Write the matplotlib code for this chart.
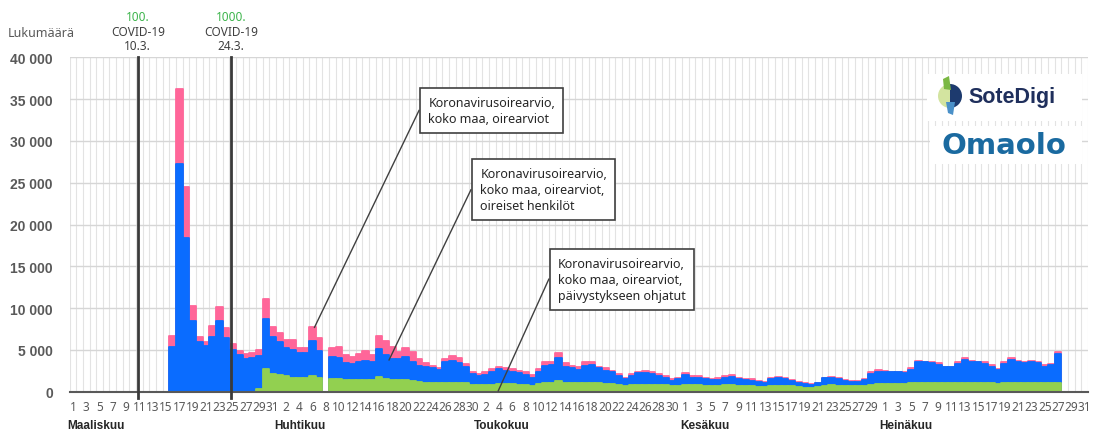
import numpy as np
import pandas as pd
import matplotlib
matplotlib.use('Agg')
import matplotlib.pyplot as plt
from matplotlib import transforms
from matplotlib.patches import Rectangle, Polygon, Wedge

plt.rcParams['font.family'] = ['Noto Sans', 'DejaVu Sans']

# Daily counts from 16.3.2020 onwards
first_day = '2020-03-16'
total = [6700, 36200, 24500, 10300, 6500, 6000, 7900, 10100, 7600, 5700,
         4900, 4500, 4600, 5000, 11100, 7800, 7000, 6200, 6200, 5200,
         5200, 7700, 6400, 0, 5200, 5300, 4400, 4200, 4500, 4900,
         4400, 6700, 6100, 5300, 4800, 5200, 4700, 3900, 3400, 3100,
         2800, 3900, 4300, 4000, 3300, 2300, 2100, 2300, 2700, 3000,
         2800, 2700, 2500, 2300, 2000, 2700, 3600, 3600, 4600, 3400,
         3100, 2900, 3500, 3500, 3000, 2800, 2500, 2100, 1700, 2100,
         2400, 2500, 2300, 2100, 1900, 1500, 1700, 2200, 1900, 1900,
         1700, 1500, 1600, 1900, 2000, 1700, 1500, 1500, 1300, 1200,
         1600, 1800, 1600, 1400, 1200, 1000, 900, 1100, 1700, 1800,
         1700, 1400, 1300, 1300, 1500, 2300, 2600, 2500, 2400, 2400,
         2300, 2800, 3700, 3600, 3600, 3400, 3000, 3000, 3500, 4000,
         3700, 3600, 3500, 3200, 2700, 3500, 4000, 3700, 3600, 3700,
         3600, 3200, 3300, 4700]
symptomatic = [5400, 27200, 18400, 8400, 6000, 5500, 6600, 8500, 6400, 5000,
               4400, 3900, 4000, 4300, 8700, 6600, 6000, 5200, 5000, 4600,
               4600, 6100, 4900, 0, 4200, 4000, 3400, 3300, 3600, 3700,
               3600, 5100, 4400, 3900, 3900, 4100, 3500, 3100, 3000, 2800,
               2600, 3500, 3700, 3400, 3000, 2100, 1900, 2000, 2300, 2700,
               2500, 2400, 2200, 2000, 1700, 2400, 3100, 3200, 4000, 3000,
               2800, 2600, 3100, 3200, 2800, 2500, 2300, 1900, 1500, 1900,
               2200, 2200, 2100, 1900, 1700, 1300, 1500, 2000, 1700, 1700,
               1500, 1400, 1400, 1700, 1800, 1500, 1400, 1300, 1200, 1100,
               1500, 1600, 1500, 1300, 1100, 900, 800, 1000, 1600, 1600,
               1500, 1300, 1200, 1200, 1400, 2100, 2400, 2300, 2300, 2300,
               2200, 2600, 3500, 3500, 3400, 3200, 2900, 2900, 3300, 3800,
               3500, 3500, 3300, 3000, 2600, 3300, 3800, 3500, 3400, 3500,
               3400, 3000, 3200, 4500]
referred = [0, 0, 0, 0, 0, 0, 0, 0, 0, 0,
            0, 0, 0, 300, 2700, 2100, 2000, 1900, 1700, 1700,
            1700, 1900, 1700, 0, 1500, 1500, 1400, 1400, 1400, 1400,
            1400, 1800, 1500, 1400, 1400, 1400, 1300, 1200, 1100, 1100,
            1000, 1100, 1100, 1100, 1000, 800, 800, 800, 800, 900,
            900, 900, 800, 800, 700, 900, 1000, 1100, 1300, 1100,
            1000, 1000, 1000, 1000, 1000, 900, 900, 800, 700, 800,
            800, 800, 800, 800, 800, 700, 700, 800, 800, 800,
            700, 700, 700, 800, 800, 700, 700, 700, 600, 600,
            700, 700, 700, 700, 600, 500, 500, 600, 700, 800,
            700, 700, 700, 700, 700, 800, 900, 900, 900, 900,
            900, 1000, 1100, 1100, 1100, 1000, 1000, 1000, 1000, 1000,
            1000, 1000, 1000, 1000, 900, 1000, 1100, 1100, 1000, 1000,
            1000, 1000, 1000, 1100]

months = ['Maaliskuu', 'Huhtikuu', 'Toukokuu', 'Kesäkuu', 'Heinäkuu']
event_dates = ['2020-03-10', '2020-03-24']
event_counts = ['100.', '1000.']
event_days = ['10.3.', '24.3.']
notes = ['Koronavirusoirearvio,\nkoko maa, oirearviot',
         'Koronavirusoirearvio,\nkoko maa, oirearviot,\noireiset henkilöt',
         'Koronavirusoirearvio,\nkoko maa, oirearviot,\npäivystykseen ohjatut']

start = pd.Timestamp('2020-03-01')
all_days = pd.date_range(start, '2020-07-31')
days = pd.date_range(first_day, periods=len(total))
x = (days - start).days.values + 0.5
n_days = len(all_days)

fig = plt.figure(figsize=(11.02, 4.35), dpi=100)
ax = fig.add_axes([0.0631, 0.0972, 0.9242, 0.7688])

# grid: every day vertically, every 5000 horizontally
ax.vlines(np.arange(0, n_days + 1), 0, 40000, color='#e3e3e3', lw=0.8, zorder=0)
for v in range(5000, 40001, 5000):
    ax.axhline(v, color='#d6d6d6', lw=1.0, zorder=0)

bar_kw = dict(width=1.0, linewidth=1.3, joinstyle='round')
ax.bar(x, total, color='#ff6699', edgecolor='#ff6699', zorder=2, **bar_kw)
ax.bar(x, symptomatic, color='#0a6cff', edgecolor='#0a6cff', zorder=3, **bar_kw)
ax.bar(x, referred, color='#92d050', edgecolor='#92d050', zorder=4, **bar_kw)

ax.set_xlim(0, n_days)
ax.set_ylim(0, 40000)
for s in ['top', 'right', 'left']:
    ax.spines[s].set_visible(False)
ax.spines['bottom'].set_color('#595959')
ax.spines['bottom'].set_linewidth(1.5)
ax.spines['bottom'].set_zorder(5)

yt = np.arange(0, 40001, 5000)
ax.set_yticks(yt)
ax.set_yticklabels([f'{v:,}'.replace(',', ' ') for v in yt], family='Liberation Sans',
                   fontweight='bold', color='#595959', fontsize=10)
xt = np.arange(0, n_days, 2)
ax.set_xticks(xt + 0.5)
ax.set_xticklabels([str(all_days[i].day) for i in xt], color='#595959', fontsize=8.5)
ax.tick_params(axis='both', length=0)
ax.tick_params(axis='y', pad=12)
ax.tick_params(axis='x', pad=6)

# month names under the first day of each month
tr = transforms.blended_transform_factory(ax.transData, ax.transAxes)
month_starts = [i for i, d in enumerate(all_days) if d.day == 1]
for m, i in zip(months, month_starts):
    ax.text(i - 0.3, -0.1, m, transform=tr, family='Liberation Sans', fontweight='bold',
            fontsize=8.5, color='#262626', ha='left', va='center')

# COVID-19 case milestones
for d, c, lbl in zip(event_dates, event_counts, event_days):
    xe = (pd.Timestamp(d) - start).days + 1.25
    ax.plot([xe, xe], [-700, 40000], color='#3a3a3a', lw=2, zorder=6, clip_on=False)
    ax.text(xe, 1.123, c, transform=tr, ha='center', va='center',
            fontsize=8.5, color='#3cb44b')
    ax.text(xe, 1.076, 'COVID-19', transform=tr, ha='center', va='center',
            fontsize=8.5, color='#404040')
    ax.text(xe, 1.034, lbl, transform=tr, ha='center', va='center',
            fontsize=8.5, color='#404040')

fig.text(0.0073, 0.924, 'Lukumäärä', fontsize=9, color='#595959', va='center')

# callout boxes with leader lines
box_left = [52.5, 60.3, 72.0]
box_mid = [33640, 24150, 13460]
targets = [(36.8, 7700), (48.0, 3800), (64.4, 100)]
for txt, bl, bm, (tx, ty) in zip(notes, box_left, box_mid, targets):
    ax.plot([bl, tx], [bm, ty], color='#404040', lw=1, zorder=7, clip_on=False)
    ax.text(bl + 1.4, bm, txt, ha='left', va='center', fontsize=9,
            color='#262626', linespacing=1.3, zorder=8,
            bbox=dict(boxstyle='square,pad=0.65', fc='white', ec='#404040', lw=1.2))

# logos (top right), drawn in pixel-like coordinates
lax = fig.add_axes([927 / 1102, 1 - 165 / 435, 155 / 1102, 90 / 435])
lax.set_xlim(927, 1082)
lax.set_ylim(165, 75)
lax.axis('off')
lax.add_patch(Rectangle((927, 75), 155, 47, fc='white', ec='none'))
lax.add_patch(Rectangle((930, 127), 152, 38, fc='white', ec='none'))
lax.add_patch(Wedge((950, 97), 12, 90, 270, fc='#d3e4a0', ec='none'))
lax.add_patch(Wedge((950, 97), 12, -90, 90, fc='#1d3a6e', ec='none'))
lax.add_patch(Polygon([(943, 80), (949, 77), (951, 91), (944, 90)], fc='#7bb843', ec='none'))
lax.add_patch(Polygon([(946, 103), (955, 103), (953, 116), (948, 114)], fc='#4a90c8', ec='none'))
lax.text(968, 98, 'SoteDigi', fontsize=15.5, fontweight='bold', color='#1f2f5c',
         va='center', ha='left', family='Liberation Sans')
lax.text(1004, 146, 'Omaolo', fontsize=21, fontweight='bold', color='#1a6aa0',
         va='center', ha='center', family='DejaVu Sans')

fig.savefig('out.png', dpi=100)
